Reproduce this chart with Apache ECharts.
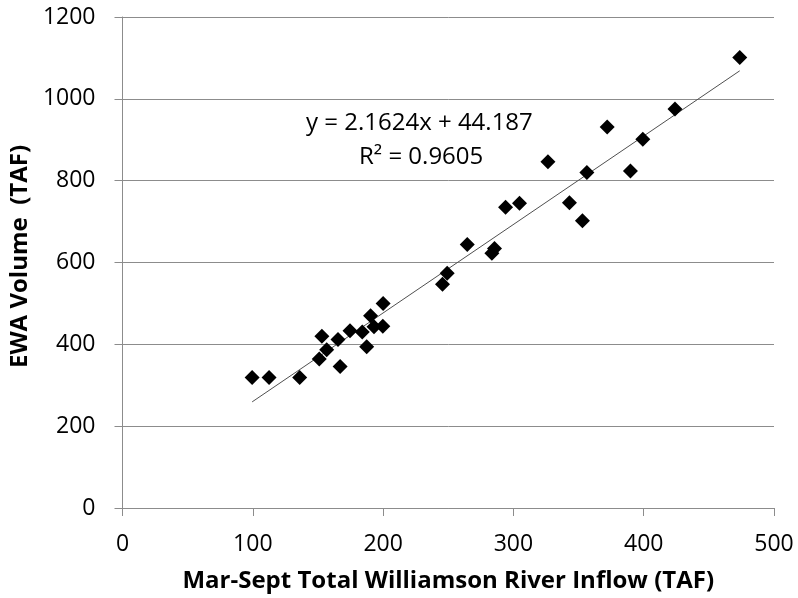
<!DOCTYPE html>
<html><head><meta charset="utf-8">
<script src="https://cdn.jsdelivr.net/npm/echarts@6/dist/echarts.min.js"></script>
<style>html,body{margin:0;padding:0;background:#fff}#c{width:798px;height:598px}</style>
</head><body><div id="c"></div>
<script>
const inflowX = [99.5,112.5,136,151,153,156.7,165.4,167,174.6,184,187.4,190.4,193,199.8,200,245.6,249.2,264.6,283.5,285.5,294,304.7,326.5,343,353,356.4,372,389.8,399.3,424,473.7];
const ewaY = [319,319,319,364,420,387,412,346,433,430,394,470,443,444,500,547,573.5,644,622.5,634,735,745,846,746,702,820,931,823.5,901,975,1101];
const slope = 2.1624, intercept = 44.187, r2 = '0.9605';
const xTicks = [0,100,200,300,400,500];
const yTicks = [0,200,400,600,800,1000,1200];
const xTitle = 'Mar-Sept Total Williamson River Inflow (TAF)';
const yTitle = 'EWA Volume  (TAF)';

const pts = inflowX.map((x,i)=>[x, ewaY[i]]);
const xMin = Math.min(...inflowX), xMax = Math.max(...inflowX);
const trend = [[xMin, slope*xMin+intercept],[xMax, slope*xMax+intercept]];
const FONT = '"Open Sans", "DejaVu Sans", sans-serif';
const chart = echarts.init(document.getElementById('c'), null, {renderer:'canvas'});
chart.setOption({
  animation:false,
  backgroundColor:'#ffffff',
  grid:{left:121, right:24, top:17, bottom:90, containLabel:false},
  xAxis:{type:'value', min:xTicks[0], max:xTicks[xTicks.length-1], interval:100,
    name:xTitle, nameLocation:'middle', nameGap:61,
    nameTextStyle:{fontFamily:FONT, fontSize:24, fontWeight:'bold', color:'#000'},
    axisLine:{show:true, onZero:false, lineStyle:{color:'#8c8c8c', width:1}},
    axisTick:{show:true, inside:false, length:8, lineStyle:{color:'#8c8c8c'}},
    axisLabel:{fontFamily:FONT, fontSize:23, color:'#000', margin:25, formatter:v=>String(v)},
    splitLine:{show:false}},
  yAxis:{type:'value', min:yTicks[0], max:yTicks[yTicks.length-1], interval:200,
    name:yTitle, nameLocation:'middle', nameGap:88, nameRotate:90,
    nameTextStyle:{fontFamily:FONT, fontSize:24, fontWeight:'bold', color:'#000', padding:[0,0,0,12]},
    axisLine:{show:true, lineStyle:{color:'#8c8c8c', width:1}},
    axisTick:{show:true, inside:false, length:8, lineStyle:{color:'#8c8c8c'}},
    axisLabel:{fontFamily:FONT, fontSize:23, color:'#000', margin:27, formatter:v=>String(v)},
    splitLine:{show:true, lineStyle:{color:'#8c8c8c', width:1}}},
  series:[
    {type:'line', data:trend, symbol:'none', lineStyle:{color:'#505050', width:1}, silent:true, z:2},
    {type:'scatter', data:pts, symbol:'diamond', symbolSize:15, itemStyle:{color:'#000', opacity:1}, z:3}
  ],
  graphic:[
    {type:'text', left:306, top:111, style:{text:'y = '+slope+'x + '+intercept, fontFamily:FONT, fontSize:24, fill:'#000'}},
    {type:'text', left:359, top:145, style:{text:'R² = '+r2, fontFamily:FONT, fontSize:24, fill:'#000'}}
  ]
});
</script></body></html>
